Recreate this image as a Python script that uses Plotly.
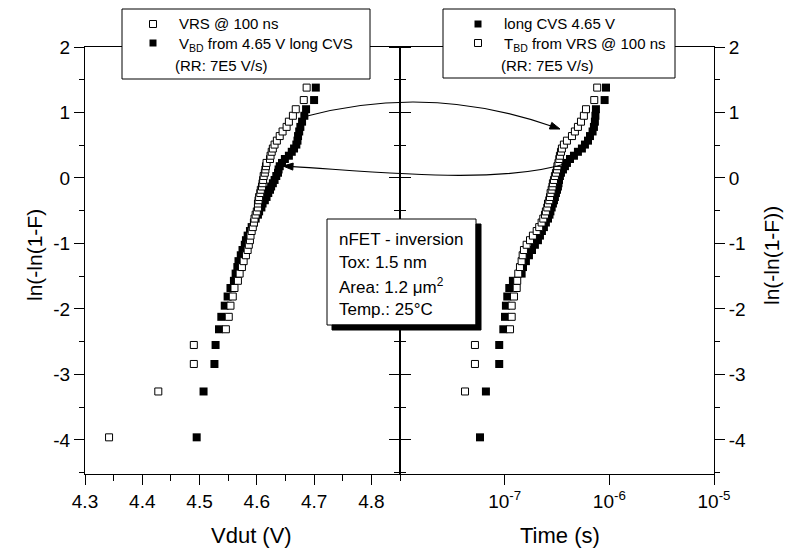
import plotly.graph_objects as go

# ---------------- data ----------------
# Weibull ordinate ln(-ln(1-F)) of the 52 ranked samples
lnln = [-3.96, -3.26, -2.84, -2.55, -2.31, -2.12, -1.95, -1.81, -1.68, -1.57,
        -1.46, -1.36, -1.27, -1.18, -1.10, -1.02, -0.95, -0.88, -0.81, -0.75,
        -0.68, -0.62, -0.56, -0.51, -0.45, -0.39, -0.34, -0.29, -0.23, -0.18,
        -0.13, -0.08, -0.03, 0.03, 0.08, 0.13, 0.18, 0.23, 0.29, 0.34,
        0.40, 0.45, 0.51, 0.57, 0.64, 0.71, 0.78, 0.86, 0.95, 1.05,
        1.19, 1.38]

# left panel: breakdown voltage (V)
v_vrs = [4.342, 4.428, 4.490, 4.490, 4.546, 4.551, 4.554, 4.558, 4.561, 4.567,
         4.570, 4.574, 4.577, 4.581, 4.584, 4.586, 4.588, 4.589, 4.591, 4.593,
         4.595, 4.596, 4.598, 4.600, 4.602, 4.602, 4.603, 4.604, 4.606, 4.607,
         4.609, 4.610, 4.611, 4.612, 4.614, 4.615, 4.616, 4.617, 4.623, 4.624,
         4.626, 4.628, 4.631, 4.635, 4.640, 4.645, 4.652, 4.656, 4.663, 4.668,
         4.682, 4.687]
v_cvs = [4.495, 4.507, 4.526, 4.528, 4.534, 4.538, 4.544, 4.549, 4.554, 4.560,
         4.563, 4.566, 4.568, 4.572, 4.575, 4.579, 4.581, 4.584, 4.588, 4.591,
         4.595, 4.598, 4.602, 4.604, 4.608, 4.610, 4.614, 4.617, 4.620, 4.623,
         4.625, 4.628, 4.631, 4.634, 4.637, 4.638, 4.640, 4.644, 4.649, 4.656,
         4.661, 4.665, 4.669, 4.671, 4.672, 4.674, 4.676, 4.679, 4.683, 4.686,
         4.700, 4.703]

# right panel: time to breakdown (ns)
t_cvs_ns = [58.1, 66.2, 88.7, 88.7, 97.1, 100.7, 102.8, 105.9, 110.7, 119.9,
            145.2, 149.6, 159.6, 170.6, 182.4, 194.5, 208.0, 217.3, 227.0, 237.1,
            247.7, 259.4, 267.9, 273.5, 281.2, 289.1, 295.8, 302.0, 309.0, 316.2,
            322.8, 326.6, 330.4, 337.3, 345.1, 360.6, 376.7, 393.6, 420.7, 459.2,
            501.2, 547.0, 584.8, 625.2, 653.1, 691.8, 712.8, 727.8, 736.2, 744.7,
            901.6, 929.0]
t_vrs_ns = [None, 41.8, 52.0, 52.0, 112.5, 116.7, 116.7, 122.7, 130.3, 131.8,
            134.9, 140.0, 145.2, 148.6, 152.8, 162.2, 174.6, 186.2, 202.3, 213.8,
            225.4, 233.9, 242.7, 247.7, 255.3, 259.4, 266.7, 271.0, 274.8, 281.2,
            286.4, 289.1, 295.8, 302.0, 309.0, 316.2, 319.2, 326.6, 332.7, 337.3,
            345.1, 352.4, 368.1, 393.6, 439.5, 468.8, 501.2, 535.8, 571.5, 598.4,
            717.8, 765.6]

t_cvs = [v * 1e-9 for v in t_cvs_ns]
t_vrs = [None if v is None else v * 1e-9 for v in t_vrs_ns]

v_ticks = [4.3, 4.4, 4.5, 4.6, 4.7, 4.8]
v_ticktext = ["4.3", "4.4", "4.5", "4.6", "4.7", "4.8"]
y_ticks = [-4, -3, -2, -1, 0, 1, 2]
y_ticktext = ["-4", "-3", "-2", "-1", "0", "1", "2"]
t_ticks = [1e-7, 1e-6, 1e-5]
t_ticktext = ["10<sup>-7</sup>", "10<sup>-6</sup>", "10<sup>-5</sup>"]

# ---------------- geometry helpers (pixel -> paper) ----------------
W, H = 789, 552
L, R, T, B = 85, 714, 47, 474


def fx(px):
    return (px - L) / (R - L)


def fy(py):
    return (B - py) / (B - T)


FONT = "Liberation Sans, Arial, sans-serif"
split = fx(400)

fig = go.Figure()
fig.add_trace(go.Scatter(x=v_cvs, y=lnln, mode="markers", xaxis="x", yaxis="y",
                         marker=dict(symbol="square", size=8, color="black", line=dict(width=0)),
                         showlegend=False))
fig.add_trace(go.Scatter(x=v_vrs, y=lnln, mode="markers", xaxis="x", yaxis="y",
                         marker=dict(symbol="square", size=7, color="white",
                                     line=dict(width=1, color="black")),
                         showlegend=False))
fig.add_trace(go.Scatter(x=t_cvs, y=lnln, mode="markers", xaxis="x2", yaxis="y2",
                         marker=dict(symbol="square", size=8, color="black", line=dict(width=0)),
                         showlegend=False))
fig.add_trace(go.Scatter(x=t_vrs, y=lnln, mode="markers", xaxis="x2", yaxis="y2",
                         marker=dict(symbol="square", size=7, color="white",
                                     line=dict(width=1, color="black")),
                         showlegend=False))

t_minor = [m * 10.0 ** e for e in (-8, -7, -6) for m in range(2, 10)]

axis_common = dict(showgrid=False, zeroline=False, showline=True, linecolor="black",
                   linewidth=1, ticks="outside", tickcolor="black", tickwidth=1,
                   tickfont=dict(family=FONT, size=19, color="black"))

fig.update_layout(
    width=W, height=H, autosize=False,
    margin=dict(l=L, r=W - R, t=T, b=H - B, pad=0),
    paper_bgcolor="white", plot_bgcolor="white",
    showlegend=False,
    font=dict(family=FONT, color="black"),
    xaxis=dict(domain=[0, split], range=[4.3, 4.85], anchor="y",
               tickmode="array", tickvals=v_ticks, ticktext=v_ticktext, ticklen=10,
               mirror=True,
               minor=dict(tickvals=[4.35, 4.45, 4.55, 4.65, 4.75, 4.85], ticklen=6,
                          ticks="outside", tickcolor="black"),
               **axis_common),
    xaxis2=dict(domain=[split, 1], type="log", range=[-8, -5], anchor="y2",
                tickmode="array", tickvals=t_ticks, ticktext=t_ticktext, ticklen=10,
                mirror=True,
                **axis_common),
    xaxis3=dict(overlaying="x2", type="log", range=[-8, -5], anchor="y2", side="bottom",
                tickmode="array", tickvals=t_minor, ticklen=6, ticks="outside",
                tickcolor="black", showticklabels=False, showgrid=False,
                zeroline=False, showline=False),
    yaxis=dict(domain=[0, 1], range=[-4.52, 2], anchor="x", side="left",
               tickmode="array", tickvals=y_ticks, ticktext=y_ticktext, ticklen=10,
               mirror="ticks",
               minor=dict(tickvals=[-4.5, -3.5, -2.5, -1.5, -0.5, 0.5, 1.5], ticklen=5,
                          ticks="outside", tickcolor="black"),
               **axis_common),
    yaxis2=dict(domain=[0, 1], range=[-4.52, 2], anchor="x2", side="right",
                tickmode="array", tickvals=y_ticks, ticktext=y_ticktext, ticklen=10,
                mirror="ticks",
                minor=dict(tickvals=[-4.5, -3.5, -2.5, -1.5, -0.5, 0.5, 1.5], ticklen=5,
                           ticks="outside", tickcolor="black"),
                **axis_common),
)

shapes = []
annotations = []


def rect(x0, y0, x1, y1, fill="white", line=1):
    shapes.append(dict(type="rect", xref="paper", yref="paper", layer="above",
                       x0=fx(x0), x1=fx(x1), y0=fy(y1), y1=fy(y0), fillcolor=fill,
                       line=dict(color="black", width=line)))


def text(px, py, s, size=15, anchor="left", angle=0):
    annotations.append(dict(xref="paper", yref="paper", x=fx(px), y=fy(py), text=s,
                            showarrow=False, xanchor=anchor, yanchor="middle",
                            textangle=angle,
                            font=dict(family=FONT, size=size, color="black")))


def marker(cx, cy, filled, s=7):
    h = s / 2
    shapes.append(dict(type="rect", xref="paper", yref="paper", layer="above",
                       x0=fx(cx - h), x1=fx(cx + h), y0=fy(cy + h), y1=fy(cy - h),
                       fillcolor="black" if filled else "white",
                       line=dict(color="black", width=0 if filled else 1)))


def poly(points, fill="black"):
    d = "M " + " L ".join("{},{}".format(fx(a), fy(b)) for a, b in points) + " Z"
    shapes.append(dict(type="path", xref="paper", yref="paper", layer="above", path=d,
                       fillcolor=fill, line=dict(color=fill, width=1)))


# axis titles
text(251, 535, "Vdut (V)", size=22, anchor="center")
text(560, 535, "Time (s)", size=22, anchor="center")
text(34, 255, "ln(-ln(1-F)", size=21, anchor="center", angle=-90)
text(771, 256, "ln(-ln(1-F))", size=21, anchor="center", angle=-90)

# left legend box
rect(122, 9, 370, 79)
marker(153, 24, False)
marker(153, 43, True)
text(177, 24, "VRS @ 100 ns")
text(177, 44, "V<sub>BD</sub> from 4.65 V long CVS")
text(173, 65, "(RR: 7E5 V/s)")

# right legend box
rect(443, 9, 675, 78)
marker(478, 24, True)
marker(478, 43, False)
text(502, 24, "long CVS 4.65 V")
text(502, 44, "T<sub>BD</sub> from VRS @ 100 ns")
text(499, 65, "(RR: 7E5 V/s)")

# info box with drop shadow (L-shaped black band at right and bottom)
rect(327, 219, 476, 325)
poly([(476, 224), (481, 224), (481, 330), (332, 330), (332, 325), (476, 325)])
text(337, 239, "nFET - inversion", size=17)
text(337, 262, "Tox: 1.5 nm", size=17)
text(337, 286, "Area: 1.2 \u03bcm<sup>2</sup>", size=17)
text(337, 309, "Temp.: 25\u00b0C", size=17)


def path_q(p0, p1, p2):
    return "M {},{} Q {},{} {},{}".format(fx(p0[0]), fy(p0[1]), fx(p1[0]), fy(p1[1]),
                                          fx(p2[0]), fy(p2[1]))


def path_c(p0, c1, c2, p3):
    return "M {},{} C {},{} {},{} {},{}".format(fx(p0[0]), fy(p0[1]), fx(c1[0]), fy(c1[1]),
                                                fx(c2[0]), fy(c2[1]), fx(p3[0]), fy(p3[1]))


# curved arrows
shapes.append(dict(type="path", xref="paper", yref="paper", layer="above",
                   path=path_q((303, 117), (428, 83), (551, 126)),
                   line=dict(color="black", width=1.2)))
poly([(560, 129), (549.4, 129.0), (551.8, 122.4)])
shapes.append(dict(type="path", xref="paper", yref="paper", layer="above",
                   path=path_c((568, 163), (500, 185), (380, 172), (293, 166.6)),
                   line=dict(color="black", width=1.2)))
poly([(283, 166), (293.2, 163.1), (292.8, 170.1)])

fig.update_layout(shapes=shapes, annotations=annotations)
fig.write_html("out.html", config={"displayModeBar": False},
               post_script="document.body.style.margin='0px';")
